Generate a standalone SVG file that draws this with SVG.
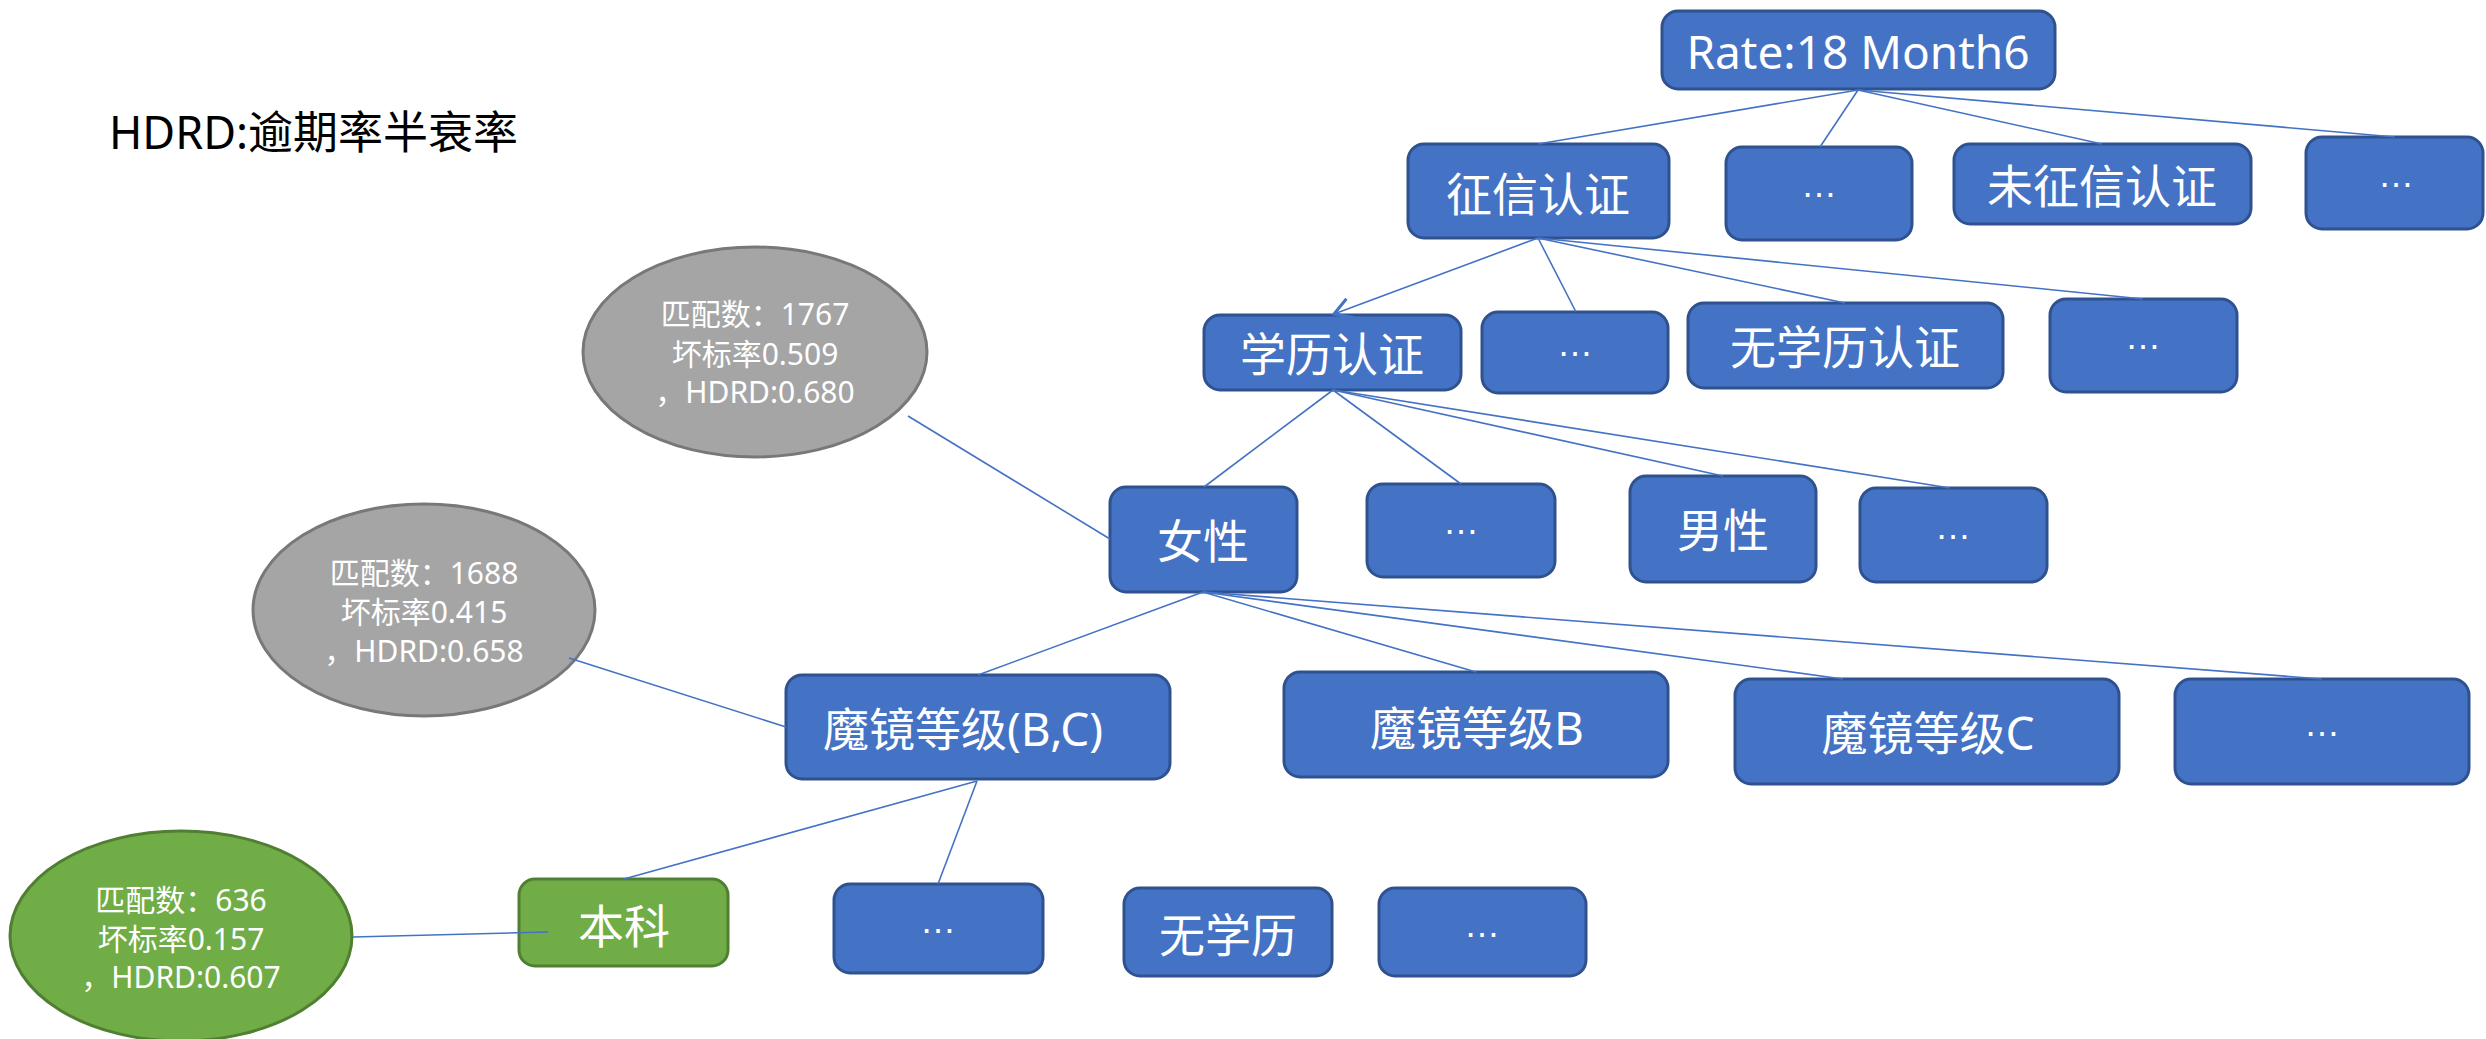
<svg xmlns="http://www.w3.org/2000/svg" width="2486" height="1039" viewBox="0 0 2486 1039">
<style>
.box{fill:#4472C4;stroke:#2F528F;stroke-width:3}
.gbox{fill:#70AD47;stroke:#507E32;stroke-width:3}
.gell{fill:#A5A5A5;stroke:#787878;stroke-width:3}
.grell{fill:#70AD47;stroke:#507E32;stroke-width:3}
.t{font-family:"Noto Sans","Noto Sans CJK SC",sans-serif;font-size:46px;fill:#FFFFFF;text-anchor:middle}
.dots{font-family:"Liberation Sans","Noto Sans",sans-serif;font-size:36px;fill:#FFFFFF;text-anchor:middle}
.et{font-family:"Noto Sans","Noto Sans CJK SC",sans-serif;font-size:30px;fill:#FFFFFF;text-anchor:middle}
.title{font-family:"Noto Sans","Noto Sans CJK SC",sans-serif;font-size:45px;fill:#000000}
.ln{stroke:#4472C4;stroke-width:1.6;fill:none}
</style>
<defs>
<marker id="arr" viewBox="-22 -14 26 28" refX="0" refY="0" markerWidth="26" markerHeight="28" markerUnits="userSpaceOnUse" orient="auto">
<path d="M-17,-10 L0,0 L-17,10" fill="none" stroke="#4472C4" stroke-width="3"/>
</marker>
</defs>
<rect width="2486" height="1039" fill="#FFFFFF"/>
<text class="title" x="109" y="149">HDRD:逾期率半衰率</text>
<g id="nodes">
<g id="root"><rect class="box" x="1662" y="11" width="393" height="78" rx="16"/><text class="t" x="1858" y="69">Rate:18 Month6</text></g>
<g id="zhengxin"><rect class="box" x="1408" y="144" width="261" height="94" rx="16"/><text class="t" x="1538" y="211">征信认证</text></g>
<g id="l1dots1"><rect class="box" x="1726" y="147" width="186" height="93" rx="16"/><text class="dots" x="1819" y="197">…</text></g>
<g id="weizhengxin"><rect class="box" x="1954" y="144" width="297" height="80" rx="16"/><text class="t" x="2102" y="203">未征信认证</text></g>
<g id="l1dots2"><rect class="box" x="2306" y="137" width="177" height="92" rx="16"/><text class="dots" x="2396" y="187">…</text></g>
<g id="xueli"><rect class="box" x="1204" y="315" width="257" height="75" rx="16"/><text class="t" x="1332" y="371">学历认证</text></g>
<g id="l2dots1"><rect class="box" x="1482" y="312" width="186" height="81" rx="16"/><text class="dots" x="1575" y="356">…</text></g>
<g id="wuxueli"><rect class="box" x="1688" y="303" width="315" height="85" rx="16"/><text class="t" x="1845" y="364">无学历认证</text></g>
<g id="l2dots2"><rect class="box" x="2050" y="299" width="187" height="93" rx="16"/><text class="dots" x="2143" y="349">…</text></g>
<g id="nvxing"><rect class="box" x="1110" y="487" width="187" height="105" rx="16"/><text class="t" x="1203" y="558">女性</text></g>
<g id="l3dots1"><rect class="box" x="1367" y="484" width="188" height="93" rx="16"/><text class="dots" x="1461" y="534">…</text></g>
<g id="nanxing"><rect class="box" x="1630" y="476" width="186" height="106" rx="16"/><text class="t" x="1723" y="547">男性</text></g>
<g id="l3dots2"><rect class="box" x="1860" y="488" width="187" height="94" rx="16"/><text class="dots" x="1953" y="539">…</text></g>
<g id="mojingBC"><rect class="box" x="786" y="675" width="384" height="104" rx="16"/><text class="t" x="963" y="746">魔镜等级(B,C)</text></g>
<g id="mojingB"><rect class="box" x="1284" y="672" width="384" height="105" rx="16"/><text class="t" x="1477" y="745">魔镜等级B</text></g>
<g id="mojingC"><rect class="box" x="1735" y="679" width="384" height="105" rx="16"/><text class="t" x="1928" y="750">魔镜等级C</text></g>
<g id="l4dots"><rect class="box" x="2175" y="679" width="294" height="105" rx="16"/><text class="dots" x="2322" y="736">…</text></g>
<g id="benke"><rect class="gbox" x="519" y="879" width="209" height="87" rx="16"/><text class="t" x="624" y="943">本科</text></g>
<g id="l5dots1"><rect class="box" x="834" y="884" width="209" height="89" rx="16"/><text class="dots" x="938" y="933">…</text></g>
<g id="wuxuelis"><rect class="box" x="1124" y="888" width="208" height="88" rx="16"/><text class="t" x="1228" y="952">无学历</text></g>
<g id="l5dots2"><rect class="box" x="1379" y="888" width="207" height="88" rx="16"/><text class="dots" x="1482" y="937">…</text></g>
<g id="stat1"><ellipse class="gell" cx="755" cy="352" rx="172" ry="105"/><text class="et" x="755" y="325">匹配数：1767</text><text class="et" x="755" y="365">坏标率0.509</text><text class="et" x="755" y="403">，HDRD:0.680</text></g>
<g id="stat2"><ellipse class="gell" cx="424" cy="610" rx="171" ry="106"/><text class="et" x="424" y="584">匹配数：1688</text><text class="et" x="424" y="623">坏标率0.415</text><text class="et" x="424" y="662">，HDRD:0.658</text></g>
<g id="stat3"><ellipse class="grell" cx="181" cy="936" rx="171" ry="105"/><text class="et" x="181" y="911">匹配数：636</text><text class="et" x="181" y="950">坏标率0.157</text><text class="et" x="181" y="988">，HDRD:0.607</text></g>
</g>
<g id="connectors">
<line class="ln" x1="1858" y1="90" x2="1538" y2="144"/>
<line class="ln" x1="1858" y1="90" x2="1820" y2="147"/>
<line class="ln" x1="1858" y1="90" x2="2102" y2="144"/>
<line class="ln" x1="1858" y1="90" x2="2395" y2="137"/>
<line class="ln" x1="1538" y1="238" x2="1334" y2="314" stroke-width="3" marker-end="url(#arr)"/>
<line class="ln" x1="1538" y1="238" x2="1576" y2="312"/>
<line class="ln" x1="1538" y1="238" x2="1845" y2="303"/>
<line class="ln" x1="1538" y1="238" x2="2143" y2="299"/>
<line class="ln" x1="1333" y1="390" x2="1204" y2="487"/>
<line class="ln" x1="1333" y1="390" x2="1461" y2="484"/>
<line class="ln" x1="1333" y1="390" x2="1723" y2="476"/>
<line class="ln" x1="1333" y1="390" x2="1950" y2="488"/>
<line class="ln" x1="908" y1="416" x2="1110" y2="539"/>
<line class="ln" x1="1203" y1="592" x2="978" y2="675"/>
<line class="ln" x1="1203" y1="592" x2="1476" y2="672"/>
<line class="ln" x1="1203" y1="592" x2="1843" y2="679"/>
<line class="ln" x1="1203" y1="592" x2="2322" y2="679"/>
<line class="ln" x1="569" y1="658" x2="786" y2="727"/>
<line class="ln" x1="977" y1="781" x2="624" y2="879" stroke-width="2"/>
<line class="ln" x1="977" y1="781" x2="938" y2="884"/>
<line class="ln" x1="353" y1="937" x2="548" y2="932" stroke-width="2.5"/>
</g>
</svg>
